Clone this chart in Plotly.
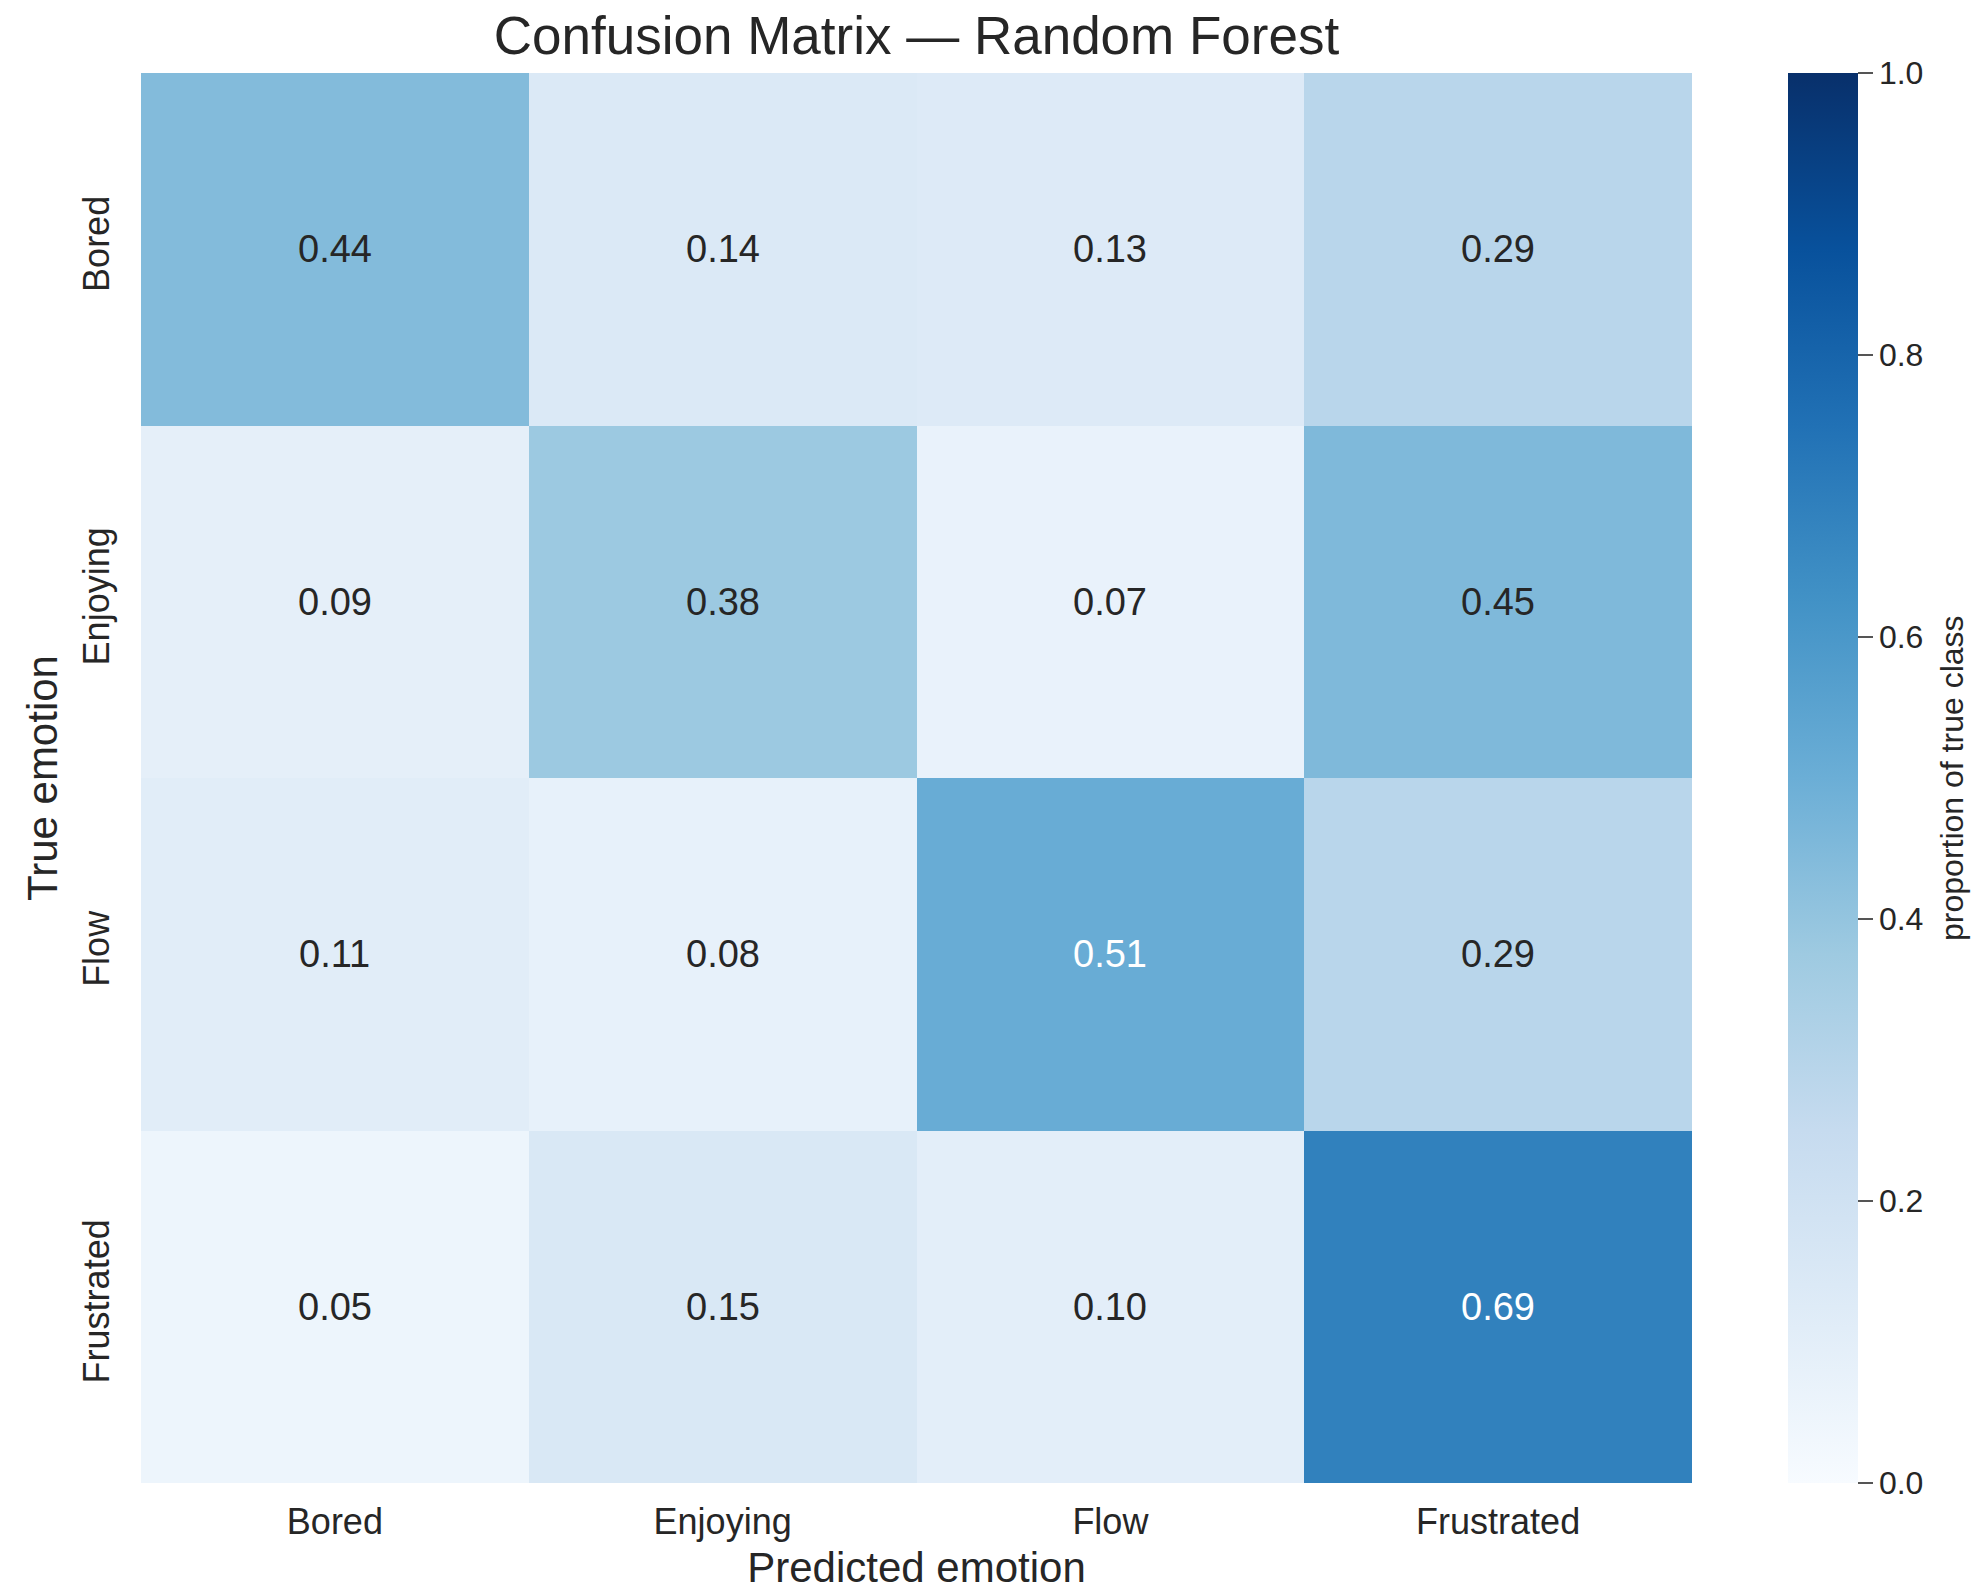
import plotly.graph_objects as go

# Confusion matrix (row-normalised) for the Random Forest classifier
classes = ["Bored", "Enjoying", "Flow", "Frustrated"]
row_bored = [0.44, 0.14, 0.13, 0.29]
row_enjoying = [0.09, 0.38, 0.07, 0.45]
row_flow = [0.11, 0.08, 0.51, 0.29]
row_frustrated = [0.05, 0.15, 0.10, 0.69]
matrix = [row_bored, row_enjoying, row_flow, row_frustrated]
cbar_ticks = [0.0, 0.2, 0.4, 0.6, 0.8, 1.0]

FONT = "Liberation Sans, Arial, Helvetica, sans-serif"
TEXT_DARK = "#262626"

# ColorBrewer "Blues" (9-class), low -> high
blues = ["#f7fbff", "#deebf7", "#c6dbef", "#9ecae1", "#6baed6",
         "#4292c6", "#2171b5", "#08519c", "#08306b"]
colorscale = [[i / (len(blues) - 1), c] for i, c in enumerate(blues)]

fig = go.Figure(
    go.Heatmap(
        z=matrix,
        x=classes,
        y=classes,
        zmin=0,
        zmax=1,
        colorscale=colorscale,
        xgap=0,
        ygap=0,
        hovertemplate="True %{y}<br>Pred %{x}<br>%{z:.2f}<extra></extra>",
        colorbar=dict(
            x=1.062,
            xanchor="left",
            xpad=0,
            y=0.5,
            yanchor="middle",
            ypad=0,
            len=1.0,
            lenmode="fraction",
            thickness=70,
            outlinewidth=0,
            tickvals=cbar_ticks,
            ticktext=[f"{v:.1f}" for v in cbar_ticks],
            ticks="outside",
            ticklen=15,
            tickwidth=1.5,
            tickcolor="#555555",
            tickfont=dict(family=FONT, size=32, color=TEXT_DARK),
        ),
    )
)

# Cell value labels: white on dark cells, dark on light cells
annotations = []
for r, row in enumerate(matrix):
    for c, val in enumerate(row):
        annotations.append(
            dict(
                x=classes[c],
                y=classes[r],
                xref="x",
                yref="y",
                text=f"{val:.2f}",
                showarrow=False,
                font=dict(family=FONT, size=38,
                          color="white" if val >= 0.5 else TEXT_DARK),
            )
        )

# Colour bar caption, set vertically to the right of the tick labels
annotations.append(
    dict(
        x=1.1676,
        y=0.5,
        xref="paper",
        yref="paper",
        xanchor="center",
        yanchor="middle",
        text="proportion of true class",
        textangle=-90,
        showarrow=False,
        font=dict(family=FONT, size=32, color=TEXT_DARK),
    )
)

fig.update_layout(
    width=1971,
    height=1591,
    margin=dict(l=141, r=279, t=73, b=108, autoexpand=False),
    paper_bgcolor="white",
    plot_bgcolor="white",
    font=dict(family=FONT, color=TEXT_DARK),
    title=dict(
        text="Confusion Matrix \u2014 Random Forest",
        x=(141 + 1692) / 2 / 1971,
        xanchor="center",
        y=1 - 35 / 1591,
        yanchor="middle",
        font=dict(family=FONT, size=53, color=TEXT_DARK),
    ),
    annotations=annotations,
    xaxis=dict(
        showgrid=False,
        zeroline=False,
        ticks="",
        ticklabelstandoff=14,
        tickfont=dict(family=FONT, size=36, color=TEXT_DARK),
        title=dict(text="Predicted emotion", standoff=15,
                   font=dict(family=FONT, size=42, color=TEXT_DARK)),
    ),
    yaxis=dict(
        showgrid=False,
        zeroline=False,
        ticks="",
        autorange="reversed",
        tickangle=-90,
        ticklabelstandoff=24,
        tickfont=dict(family=FONT, size=36, color=TEXT_DARK),
        title=dict(text="True emotion", standoff=5,
                   font=dict(family=FONT, size=42, color=TEXT_DARK)),
    ),
)

fig.write_html("out.html")
